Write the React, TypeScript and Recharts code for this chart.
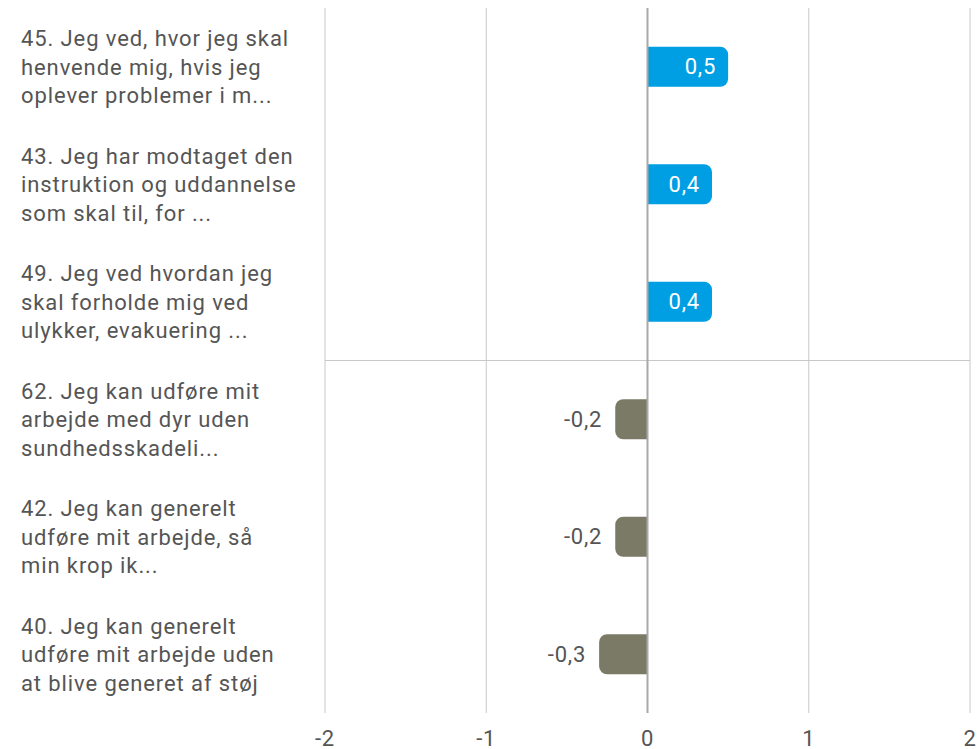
import {
  Bar,
  BarChart,
  CartesianGrid,
  Cell,
  LabelList,
  ReferenceLine,
  XAxis,
  YAxis,
} from "recharts";

const categories = [
  "45. Jeg ved, hvor jeg skal\nhenvende mig, hvis jeg\noplever problemer i m...",
  "43. Jeg har modtaget den\ninstruktion og uddannelse\nsom skal til, for ...",
  "49. Jeg ved hvordan jeg\nskal forholde mig ved\nulykker, evakuering ...",
  "62. Jeg kan udføre mit\narbejde med dyr uden\nsundhedsskadeli...",
  "42. Jeg kan generelt\nudføre mit arbejde, så\nmin krop ik...",
  "40. Jeg kan generelt\nudføre mit arbejde uden\nat blive generet af støj",
];
const scores = [0.5, 0.4, 0.4, -0.2, -0.2, -0.3];
const xTicks = [-2, -1, 0, 1, 2];

const POS = "#009fe3";
const NEG = "#7b7a67";
const TEXT = "#555555";
const FONT = "Roboto, sans-serif";

const data = categories.map((name, i) => ({ name, score: scores[i] }));

function fmt(n: number) {
  return String(n).replace(".", ",");
}

function CategoryTick(props: any) {
  const { y, payload } = props;
  const lines = String(payload.value).split("\n");
  const lh = 28.5;
  const start = y - ((lines.length - 1) * lh) / 2;
  return (
    <text x={21} y={start} fill={TEXT} fontSize={22} letterSpacing={0.9} fontFamily={FONT} dominantBaseline="central">
      {lines.map((l, i) => (
        <tspan key={i} x={21} y={start + i * lh} dominantBaseline="central">
          {l}
        </tspan>
      ))}
    </text>
  );
}

function ValueLabel(props: any) {
  const { x, y, width, height, value } = props;
  const cy = y + height / 2;
  if (value >= 0) {
    return (
      <text x={x + width - 12} y={cy} fill="#fff" fontSize={22} letterSpacing={0.8} fontFamily={FONT} textAnchor="end" dominantBaseline="central">
        {fmt(value)}
      </text>
    );
  }
  const left = Math.min(x, x + width);
  return (
    <text x={left - 13} y={cy} fill={TEXT} fontSize={22} letterSpacing={0.8} fontFamily={FONT} textAnchor="end" dominantBaseline="central">
      {fmt(value)}
    </text>
  );
}

// single horizontal line between the positive and negative groups
function splitLine({ offset }: any) {
  const idx = scores.findIndex((v) => v < 0);
  if (idx <= 0 || !offset) return [];
  return [offset.top + (offset.height * idx) / scores.length];
}

export default function App() {
  return (
    <div style={{ position: "absolute", left: 0, top: 0, width: 979, height: 749, background: "#fff" }}>
      <BarChart
        width={979}
        height={749}
        data={data}
        layout="vertical"
        margin={{ top: 8, right: 9, bottom: 0, left: 0 }}
        barCategoryGap="33%"
      >
        <CartesianGrid stroke="#c8c8c8" horizontalCoordinatesGenerator={splitLine} />
        <XAxis
          type="number"
          domain={[-2, 2]}
          ticks={xTicks}
          axisLine={false}
          tickLine={false}
          height={36}
          tick={{ fill: TEXT, fontSize: 22, fontFamily: FONT, letterSpacing: 0.8 }}
          tickMargin={11}
        />
        <YAxis
          type="category"
          dataKey="name"
          width={325}
          axisLine={false}
          tickLine={false}
          tick={<CategoryTick />}
        />
        <ReferenceLine x={0} stroke="#a8a8a8" strokeWidth={2} />
        <Bar dataKey="score" radius={[0, 8, 8, 0]} isAnimationActive={false}>
          {data.map((d, i) => (
            <Cell key={i} fill={d.score >= 0 ? POS : NEG} />
          ))}
          <LabelList dataKey="score" content={<ValueLabel />} />
        </Bar>
      </BarChart>
    </div>
  );
}
